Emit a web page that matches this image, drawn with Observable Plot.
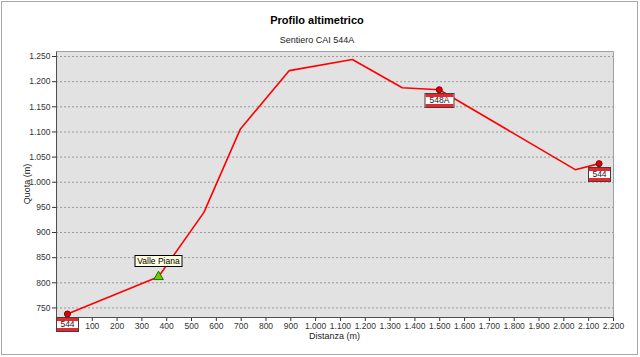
<!DOCTYPE html>
<html>
<head>
<meta charset="utf-8">
<script src="https://cdn.jsdelivr.net/npm/d3@7"></script>
<script src="https://cdn.jsdelivr.net/npm/@observablehq/plot@0.6"></script>
<style>
html, body { margin: 0; padding: 0; background: #fff; }
#wrap { position: relative; width: 640px; height: 357px; font-family: "Liberation Sans", Arial, sans-serif; overflow: hidden; }
#border { position: absolute; left: 1px; top: 1px; width: 637px; height: 354px; box-sizing: border-box; border: 1px solid #a8a8a8; pointer-events: none; }
.t { position: absolute; white-space: nowrap; color: #000; }
#title { left: 0; width: 634px; top: 14px; text-align: center; font-weight: bold; font-size: 11px; }
#subtitle { left: 0; width: 634px; top: 35px; text-align: center; font-size: 9px; color: #222; }
#xlabel { left: 56px; width: 557px; top: 331px; text-align: center; font-size: 9px; color: #222; }
#ylabel { left: 27px; top: 184px; font-size: 9px; color: #222; transform: translate(-50%, -50%) rotate(-90deg); }
#chart { position: absolute; left: 0; top: 0; }
</style>
</head>
<body>
<div id="wrap">
  <div id="chart"></div>
  <div class="t" id="title">Profilo altimetrico</div>
  <div class="t" id="subtitle">Sentiero CAI 544A</div>
  <div class="t" id="xlabel">Distanza (m)</div>
  <div class="t" id="ylabel">Quota (m)</div>
  <div id="border"></div>
</div>
<script>
// ---- data ----
const distanza = [0, 367, 550, 697, 894, 1148, 1349, 1498, 2046, 2142];
const quota    = [738, 812, 940, 1106, 1222, 1244, 1188, 1184, 1025, 1037];

const segnaviaLabel = ["544", "548A", "544"];
const segnaviaIndex = [0, 7, 9];

const localitaLabel = ["Valle Piana"];
const localitaIndex = [1];

const xTicks = [100, 200, 300, 400, 500, 600, 700, 800, 900, 1000, 1100, 1200, 1300, 1400, 1500, 1600, 1700, 1800, 1900, 2000, 2100, 2200];
const yTicks = [750, 800, 850, 900, 950, 1000, 1050, 1100, 1150, 1200, 1250];
const xDomain = [-44, 2200];
const yDomain = [731, 1260];

// ---- build ----
const profilo = distanza.map((d, i) => ({d, q: quota[i]}));
const segnavia = segnaviaLabel.map((l, k) => ({label: l, d: distanza[segnaviaIndex[k]], q: quota[segnaviaIndex[k]]}));
const localita = localitaLabel.map((l, k) => ({label: l, d: distanza[localitaIndex[k]], q: quota[localitaIndex[k]]}));

const itFmt = d3.formatLocale({decimal: ",", thousands: ".", grouping: [3], currency: ["", " €"]}).format(",");

function background(index, scales, values, dim) {
  const g = d3.create("svg:g");
  g.append("rect")
    .attr("x", dim.marginLeft).attr("y", dim.marginTop)
    .attr("width", dim.width - dim.marginLeft - dim.marginRight)
    .attr("height", dim.height - dim.marginTop - dim.marginBottom)
    .attr("fill", "#e2e2e2");
  return g.node();
}

function frameLines(index, scales, values, dim) {
  const g = d3.create("svg:g").attr("fill", "none");
  const l = dim.marginLeft + 0.5, r = dim.width - dim.marginRight + 0.5;
  const t = dim.marginTop + 0.5, b = dim.height - dim.marginBottom + 0.5;
  g.append("path").attr("d", `M${l},${t}H${r}V${b}`).attr("stroke", "#a0a0a0");
  g.append("path").attr("d", `M${l},${t}V${b}H${r}`).attr("stroke", "#505050");
  return g.node();
}

function signs(index, scales) {
  const g = d3.create("svg:g");
  for (const s of segnavia) {
    const cx = Math.round(scales.x(s.d)), cy = Math.round(scales.y(s.q));
    const w = s.label.length > 3 ? 29 : 22, h = 14;
    const x0 = cx - w / 2, y0 = cy + 4;
    const sg = g.append("g");
    sg.append("rect").attr("x", x0 + 0.5).attr("y", y0 + 0.5).attr("width", w).attr("height", h)
      .attr("fill", "#fff").attr("stroke", "#404040");
    sg.append("rect").attr("x", x0 + 1).attr("y", y0 + 1).attr("width", w - 1).attr("height", 3).attr("fill", "#e8262b");
    sg.append("rect").attr("x", x0 + 1).attr("y", y0 + h - 3).attr("width", w - 1).attr("height", 3).attr("fill", "#e8262b");
    sg.append("text").attr("x", cx + 0.5).attr("y", y0 + 7.5).attr("dy", "0.35em")
      .attr("text-anchor", "middle").attr("font-size", 8.5).attr("fill", "#222").text(s.label);
  }
  for (const s of localita) {
    const cx = Math.round(scales.x(s.d)), cy = Math.round(scales.y(s.q));
    const w = 47, h = 11;
    const x0 = cx - w / 2, y0 = cy - 10 - h;
    g.append("rect").attr("x", x0 + 0.5).attr("y", y0 + 0.5).attr("width", w).attr("height", h)
      .attr("fill", "#ffffe1").attr("stroke", "#000");
    g.append("text").attr("x", cx + 0.5).attr("y", y0 + 6).attr("dy", "0.35em")
      .attr("text-anchor", "middle").attr("font-size", 8.5).attr("fill", "#000").text(s.label);
  }
  return g.node();
}

const plot = Plot.plot({
  width: 640,
  height: 357,
  marginLeft: 56,
  marginRight: 27,
  marginTop: 51,
  marginBottom: 40,
  style: {background: "transparent", fontFamily: "'Liberation Sans', Arial, sans-serif", fontSize: "8.5px", color: "#333", overflow: "visible"},
  x: {domain: xDomain, ticks: xTicks, tickFormat: itFmt, tickSize: 4, tickPadding: 1, label: null},
  y: {domain: yDomain, ticks: yTicks, tickFormat: itFmt, tickSize: 4, tickPadding: 2, label: null},
  marks: [
    background,
    Plot.ruleY(yTicks, {stroke: "#9a9a9a", strokeOpacity: 1, strokeDasharray: "2,2"}),
    frameLines,
    Plot.line(profilo, {x: "d", y: "q", stroke: "#ff0000", strokeWidth: 1.6}),
    Plot.dot(segnavia, {x: "d", y: "q", r: 3, fill: "#e00000", stroke: "#7a0000", strokeWidth: 1}),
    Plot.dot(localita, {x: "d", y: "q", symbol: "triangle", r: 3.6, fill: "#5fd000", stroke: "#2f6a00", strokeWidth: 1}),
    signs
  ]
});
document.getElementById("chart").appendChild(plot);
</script>
</body>
</html>
